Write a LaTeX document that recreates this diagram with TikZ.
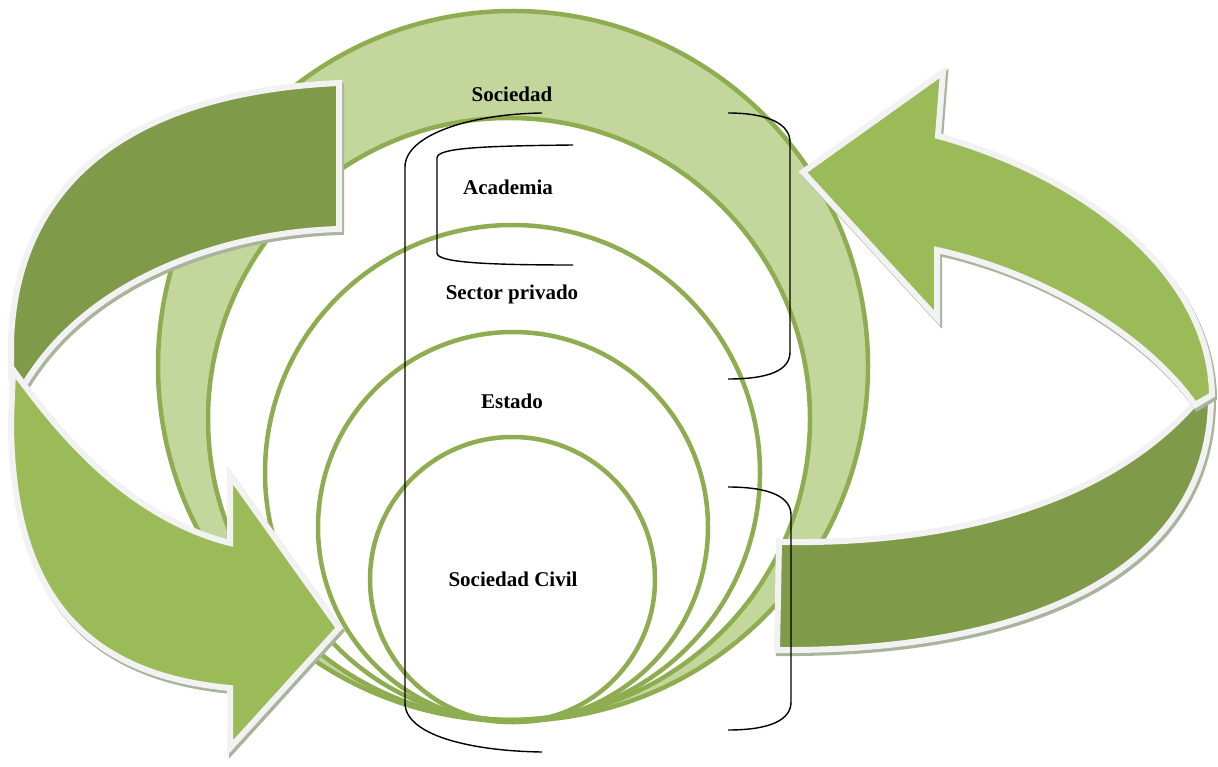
\documentclass[tikz,border=0pt]{standalone}
\usepackage{fontspec}
\setmainfont{Liberation Serif}
\definecolor{ringfill}{HTML}{C3D69B}
\definecolor{ringline}{HTML}{8EAC50}
\definecolor{darkband}{HTML}{7F9A48}
\definecolor{lightband}{HTML}{9BBB59}
\definecolor{bordergray}{HTML}{F2F2F2}
\definecolor{shadowgray}{HTML}{A9B49C}
\tikzset{
  ringstroke/.style={draw=ringline, line width=4.5pt},
  arrowpiece/.style={draw=bordergray, line width=6pt, line join=miter},
  shadowpiece/.style={fill=shadowgray, draw=shadowgray, line width=6pt, shift={(2,3)}},
  bracket/.style={draw=black, line width=1.4pt},
  lbl/.style={font=\fontsize{21}{25}\selectfont\bfseries, inner sep=0pt, anchor=base},
  pLback/.style={insert path={(339,83) -- (339,229)
     .. controls (230,232) and (90,275) .. (24,385)
     -- (11,378) -- (11,340)
     .. controls (20,120) and (230,88) .. (339,83)
     -- cycle}},
  pLfront/.style={insert path={(13,370)
     .. controls (50,420) and (120,515) .. (230,543)
     -- (230,475) -- (339,628) -- (230,748) -- (230,688)
     .. controls (90,675) and (11,600) .. (11,420)
     -- cycle}},
  pRdark/.style={insert path={(779,542)
     .. controls (960,545) and (1110,500) .. (1195,403)
     -- (1211,395)
     .. controls (1212,570) and (1030,652) .. (777,650)
     -- cycle}},
  pRlight/.style={insert path={(803,172) -- (943,72) -- (938,136)
     .. controls (1080,175) and (1210,270) .. (1212,395)
     -- (1195,405)
     .. controls (1150,340) and (1050,275) .. (937,250)
     -- (937,318) -- cycle}},
}
\begin{document}
\begin{tikzpicture}[x=1pt, y=-1pt]
\useasboundingbox[fill=white] (0,0) rectangle (1218,767);
% ring and nested circles
\path[ringstroke, fill=ringfill] (513,366) circle[radius=355];
\path[ringstroke, fill=white] (509,419) circle[radius=301];
\path[ringstroke] (512.5,472.5) circle[radius=247.5];
\path[ringstroke] (513,527) circle[radius=195];
\path[ringstroke] (512.5,579.5) circle[radius=142.5];
% left arrow
\path[shadowpiece, pLback];
\path[arrowpiece, fill=darkband, pLback];
\path[shadowpiece, pLfront];
\path[arrowpiece, fill=lightband, pLfront];
% right arrow
\path[shadowpiece, pRdark];
\path[arrowpiece, fill=darkband, pRdark];
\path[shadowpiece, pRlight];
\path[arrowpiece, fill=lightband, pRlight];
% brackets
\path[bracket] (542,113) .. controls (470,114) and (405,135) .. (405,167) -- (405,703) .. controls (405,735) and (470,751) .. (542,752);
\path[bracket] (573,145) .. controls (480,146) and (437,148) .. (437,158) -- (437,253) .. controls (437,262) and (480,265) .. (573,265);
\path[bracket] (728,113) .. controls (770,113) and (790,125) .. (790,142) -- (790,352) .. controls (790,370) and (770,379) .. (728,379);
\path[bracket] (728,487) .. controls (770,487) and (791,497) .. (791,515) -- (791,702) .. controls (791,720) and (770,730) .. (728,730);
% labels
\node[lbl] (soc) at (512,102) {Sociedad};
\node[lbl] (aca) at (508,195) {Academia};
\node[lbl] (sec) at (512,300) {Sector privado};
\node[lbl] (est) at (512,408) {Estado};
\node[lbl] (civ) at (513,586) {Sociedad Civil};
\end{tikzpicture}
\end{document}
